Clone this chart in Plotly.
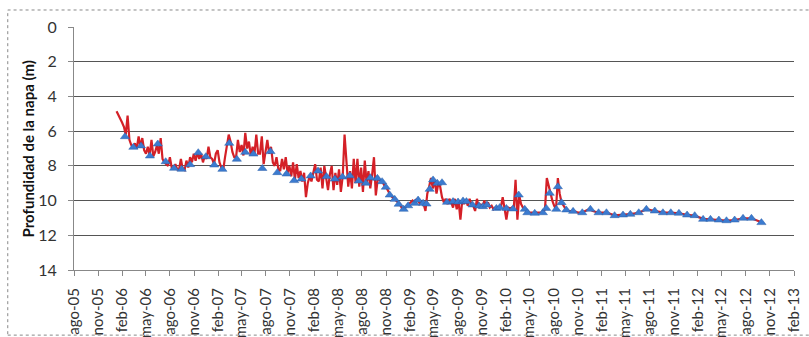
import pandas as pd
import plotly.graph_objects as go

# ---- Red series: weekly readings starting 2006-01-10 (52 weeks per block) ----
red_2006 = [4.85, 5.05, 5.25, 5.5, 5.75, 6.2, 5.1, 6.5, 6.8, 6.95, 6.7, 7.0, 6.3,
            6.9, 6.4, 7.1, 7.3, 6.9, 7.4, 6.5, 7.45, 7.2, 6.8, 7.3, 6.4, 7.6,
            7.8, 7.9, 8.0, 7.5, 8.1, 8.15, 7.9, 8.2, 8.2, 7.6, 8.2, 8.25, 7.7,
            8.1, 7.5, 7.8, 7.3, 7.7, 7.2, 7.6, 7.3, 7.8, 7.4, 7.6, 6.9, 7.5]
red_2007 = [7.6, 7.9, 7.3, 7.1, 7.8, 8.1, 8.25, 7.5, 6.9, 6.2, 6.6, 7.2, 7.5,
            7.5, 6.5, 7.2, 6.8, 7.4, 6.1, 7.0, 6.6, 7.4, 6.9, 7.3, 6.2, 7.3,
            7.3, 6.3, 7.9, 7.2, 6.5, 7.3, 6.9, 7.8, 8.0, 7.5, 8.2, 8.3, 7.6,
            8.2, 7.5, 8.4, 8.0, 8.6, 7.8, 8.8, 7.9, 8.7, 8.3, 8.9, 8.4, 9.8]
red_2008 = [9.0, 8.6, 8.9, 8.4, 7.9, 8.8, 8.9, 8.1, 9.3, 8.0, 8.7, 9.4, 8.5,
            8.0, 9.4, 8.4, 9.1, 8.2, 9.5, 8.6, 6.2, 8.0, 9.2, 8.3, 9.3, 7.6,
            9.0, 7.6, 9.2, 8.1, 9.5, 7.7, 9.0, 8.3, 9.3, 8.5, 7.5, 9.7, 8.8,
            8.8, 8.9, 9.0, 9.2, 9.3, 9.5, 9.7, 9.8, 9.9, 10.0, 10.1, 10.2, 10.4]
red_2009 = [10.5, 10.4, 10.3, 10.2, 10.1, 10.0, 10.1, 9.95, 10.0, 10.2, 10.1, 10.2, 10.6,
            9.6, 9.2, 8.7, 9.3, 8.8, 9.6, 9.0, 9.2, 9.8, 10.1, 9.9, 10.2, 9.9,
            10.1, 10.4, 9.9, 10.5, 10.0, 11.1, 10.0, 10.2, 9.95, 10.3, 9.9, 10.2, 10.3,
            10.6, 9.9, 10.4, 10.2, 10.4, 10.0, 10.3, 10.1, 10.4, 10.3, 10.5, 10.4, 10.45]
red_2010 = [10.4, 10.4, 9.8, 10.5, 11.1, 10.4, 10.45, 10.4, 10.5, 8.8, 11.1, 9.7, 10.2,
            10.4, 10.5, 10.6, 10.7, 10.7, 10.7, 10.75, 10.7, 10.7, 10.7, 10.7, 10.65, 10.5,
            8.7, 9.2, 9.6, 10.0, 10.3, 10.5, 8.7, 9.6, 10.1, 10.3, 10.45, 10.55, 10.6,
            10.6, 10.6, 10.65, 10.65, 10.7, 10.7, 10.7, 10.65, 10.6, 10.55, 10.5, 10.55, 10.6]
red_start = "2006-01-10"

# ---- Red series: smoother tail (2011-2012) ----
red_tail_dates = ["2011-01-19", "2011-02-18", "2011-03-21", "2011-04-22", "2011-05-20",
                  "2011-06-21", "2011-07-20", "2011-08-21", "2011-09-21", "2011-10-21",
                  "2011-11-21", "2011-12-22", "2012-01-20", "2012-02-21", "2012-03-20",
                  "2012-04-21", "2012-05-20", "2012-06-20", "2012-07-22", "2012-08-23",
                  "2012-09-30"]
red_tail_vals = [10.7, 10.7, 10.85, 10.83, 10.78, 10.7, 10.5, 10.6, 10.68, 10.7,
                 10.73, 10.82, 10.87, 11.05, 11.08, 11.12, 11.15, 11.12, 11.03, 11.02,
                 11.25]

# ---- Blue triangles: manual measurements ----
blue_dates = ["2006-02-11", "2006-03-15", "2006-04-13", "2006-05-17", "2006-06-16",
              "2006-07-16", "2006-08-17", "2006-09-15", "2006-10-17", "2006-11-17",
              "2006-12-16", "2007-01-17", "2007-02-17", "2007-03-15", "2007-04-13",
              "2007-05-15", "2007-06-15", "2007-07-19", "2007-08-19", "2007-09-14",
              "2007-10-19", "2007-11-17", "2007-12-15", "2008-01-19", "2008-02-16",
              "2008-03-19", "2008-04-20", "2008-05-19", "2008-06-16", "2008-07-20",
              "2008-08-16", "2008-09-02", "2008-09-29", "2008-10-17", "2008-10-31",
              "2008-11-15", "2008-12-04", "2008-12-19", "2009-01-07", "2009-01-24",
              "2009-02-18", "2009-03-03", "2009-03-22", "2009-04-04", "2009-04-16",
              "2009-04-29", "2009-05-15", "2009-06-02", "2009-06-21", "2009-07-14",
              "2009-08-02", "2009-08-21", "2009-09-03", "2009-09-26", "2009-10-21",
              "2009-11-05", "2009-11-20", "2009-12-26", "2010-01-08", "2010-02-02",
              "2010-02-27", "2010-03-21", "2010-04-13", "2010-04-23", "2010-05-21",
              "2010-06-21", "2010-07-04", "2010-07-17", "2010-08-11", "2010-08-17",
              "2010-08-31", "2010-09-18", "2010-10-14", "2010-11-18", "2010-12-19",
              "2011-01-19", "2011-02-18", "2011-03-21", "2011-04-22", "2011-05-20",
              "2011-06-21", "2011-07-20", "2011-08-21", "2011-09-21", "2011-10-21",
              "2011-11-21", "2011-12-22", "2012-01-20", "2012-02-21", "2012-03-20",
              "2012-04-21", "2012-05-20", "2012-06-20", "2012-07-22", "2012-08-23",
              "2012-09-30"]
blue_vals = [6.32, 6.93, 6.85, 7.43, 6.74, 7.76, 8.14, 8.20, 7.93, 7.24,
             7.47, 7.95, 8.20, 6.70, 7.62, 7.22, 7.32, 8.15, 7.18, 8.39,
             8.47, 8.85, 8.76, 8.58, 8.30, 8.62, 8.76, 8.64, 8.57, 8.87,
             9.00, 8.68, 8.72, 8.91, 9.23, 9.68, 9.93, 10.21, 10.50, 10.30,
             10.16, 9.97, 10.16, 10.20, 9.35, 8.81, 9.00, 8.97, 10.10, 10.06,
             10.08, 10.02, 10.06, 10.25, 10.31, 10.35, 10.25, 10.45, 10.40, 10.45,
             10.48, 9.68, 10.50, 10.70, 10.73, 10.70, 10.45, 9.58, 10.50, 9.20,
             10.12, 10.54, 10.62, 10.70, 10.50, 10.70, 10.70, 10.87, 10.83, 10.79,
             10.70, 10.50, 10.60, 10.70, 10.70, 10.73, 10.83, 10.87, 11.08, 11.08,
             11.12, 11.16, 11.12, 11.02, 11.02, 11.27]

# ---- Axis ----
month_abbr = ["ene", "feb", "mar", "abr", "may", "jun", "jul", "ago", "sep", "oct", "nov", "dic"]
x_first_tick = "2005-08-01"
x_last_tick = "2013-02-01"
y_ticks = [0, 2, 4, 6, 8, 10, 12, 14]
y_title = "Profundidad de la napa (m)"

red_weekly = red_2006 + red_2007 + red_2008 + red_2009 + red_2010
red_dates = list(pd.date_range(red_start, periods=len(red_weekly), freq="7D")) + \
    list(pd.to_datetime(red_tail_dates))
red_vals = red_weekly + red_tail_vals

tick_dates = pd.date_range(x_first_tick, x_last_tick, freq="3MS")
tick_text = [f"{month_abbr[d.month - 1]}-{d.year % 100:02d}" for d in tick_dates]

FONT = "Lato, 'Liberation Sans', sans-serif"

fig = go.Figure()
fig.add_trace(go.Scatter(
    x=red_dates, y=red_vals, mode="lines",
    line=dict(color="#d42027", width=2.2),
    showlegend=False, hoverinfo="skip"))
fig.add_trace(go.Scatter(
    x=pd.to_datetime(blue_dates), y=blue_vals, mode="markers",
    marker=dict(symbol="triangle-up", size=8, color="#3b7bd0",
                line=dict(color="#2a5fa8", width=0.5)),
    showlegend=False, hoverinfo="skip"))

fig.update_layout(
    width=809, height=337,
    margin=dict(l=74, r=15, t=27, b=67),
    paper_bgcolor="white", plot_bgcolor="white",
    font=dict(family=FONT, size=15, color="#222"),
    xaxis=dict(
        type="date", automargin=False,
        range=[x_first_tick, x_last_tick],
        tickmode="array", tickvals=list(tick_dates), ticktext=tick_text,
        tickangle=-90, tickfont=dict(size=15, color="#333"),
        ticklabelstandoff=6,
        showgrid=False, zeroline=False,
        showline=True, linecolor="#888", linewidth=1,
        ticks="outside", ticklen=5, tickcolor="#888",
    ),
    yaxis=dict(
        automargin=False,
        range=[14, 0],
        tickmode="array", tickvals=y_ticks,
        tickfont=dict(size=16, color="#333"),
        showgrid=True, gridcolor="#555", gridwidth=1,
        zeroline=False,
        showline=True, linecolor="#888", linewidth=1,
        ticks="outside", ticklen=5, tickcolor="#888",
        ticklabelstandoff=8,
    ),
    annotations=[dict(
        text="<b>" + y_title + "</b>", textangle=-90,
        xref="paper", yref="paper", x=-0.064, y=0.5,
        xanchor="center", yanchor="middle", showarrow=False,
        font=dict(size=15, color="#111"))],
    shapes=[dict(type="rect", xref="paper", yref="paper",
                 x0=-0.092, x1=1.03, y0=-0.268, y1=1.07,
                 line=dict(color="#888", width=1, dash="dot"),
                 fillcolor="rgba(0,0,0,0)", layer="above")],
)

fig.write_html("out.html", config={"displayModeBar": False},
               post_script="document.body.style.margin='0';document.body.style.overflow='hidden';")
